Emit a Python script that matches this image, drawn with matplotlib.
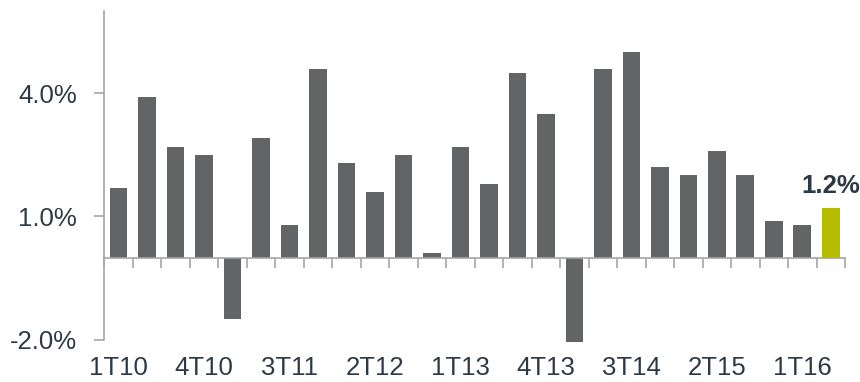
import matplotlib
matplotlib.use("Agg")
import matplotlib.pyplot as plt
import numpy as np

# Quarterly growth, 1T10 .. 2T16
quarters = [
    "1T10", "2T10", "3T10", "4T10",
    "1T11", "2T11", "3T11", "4T11",
    "1T12", "2T12", "3T12", "4T12",
    "1T13", "2T13", "3T13", "4T13",
    "1T14", "2T14", "3T14", "4T14",
    "1T15", "2T15", "3T15", "4T15",
    "1T16", "2T16",
]
growth = [
    1.7, 3.9, 2.7, 2.5,
    -1.5, 2.9, 0.8, 4.6,
    2.3, 1.6, 2.5, 0.1,
    2.7, 1.8, 4.5, 3.5,
    -2.05, 4.6, 5.0, 2.2,
    2.0, 2.6, 2.0, 0.9,
    0.8, 1.2,
]
shown_labels = ["1T10", "4T10", "3T11", "2T12", "1T13", "4T13", "3T14", "2T15", "1T16"]
y_ticks = [-2.0, 1.0, 4.0]
highlight = "2T16"

GREY = "#636466"
GREEN = "#b5bd00"
AXIS = "#a6a6a6"
TEXT = "#2d3a46"

plt.rcParams["font.family"] = ["Liberation Sans", "DejaVu Sans"]

fig = plt.figure(figsize=(8.6, 3.82), dpi=100)
ax = fig.add_axes([0.1213, 0.10, 0.8613, 0.8712])

x = np.arange(len(quarters))
colors = [GREEN if q == highlight else GREY for q in quarters]
ax.bar(x, growth, width=0.62, color=colors, edgecolor="none", zorder=2)

ax.set_xlim(-0.5, len(quarters) - 0.5)
ax.set_ylim(-2.1, 6.0)

# axis styling
for s in ["top", "right"]:
    ax.spines[s].set_visible(False)
ax.spines["left"].set_color(AXIS)
ax.spines["left"].set_linewidth(1.2)
ax.spines["left"].set_bounds(-2.0, 6.0)
ax.spines["bottom"].set_position(("data", 0))
ax.spines["bottom"].set_color(AXIS)
ax.spines["bottom"].set_linewidth(1.2)
ax.spines["bottom"].set_zorder(3)

ax.set_yticks(y_ticks)
ax.set_yticklabels([f"{v:.1f}%" for v in y_ticks])
ax.tick_params(axis="y", length=7.5, width=1.2, color=AXIS,
               labelsize=18.5, labelcolor=TEXT, pad=12)

# tick marks between categories on the zero line
ax.set_xticks(np.arange(len(quarters) + 1) - 0.5)
ax.set_xticklabels([])
ax.tick_params(axis="x", length=7.5, width=1.2, color=AXIS)

# category labels at the bottom
sec = ax.secondary_xaxis("bottom")
sec.spines["bottom"].set_visible(False)
sec.set_xticks([quarters.index(q) for q in shown_labels])
sec.set_xticklabels(shown_labels)
sec.tick_params(axis="x", length=0, labelsize=18.5, labelcolor=TEXT, pad=8.5)

hi = quarters.index(highlight)
ax.annotate(f"{growth[hi]:.1f}%", xy=(hi, growth[hi]), xytext=(0, 11),
            textcoords="offset points", ha="center", va="baseline",
            fontsize=18.5, fontweight="bold", color=TEXT)

fig.savefig("out.png", dpi=100)
